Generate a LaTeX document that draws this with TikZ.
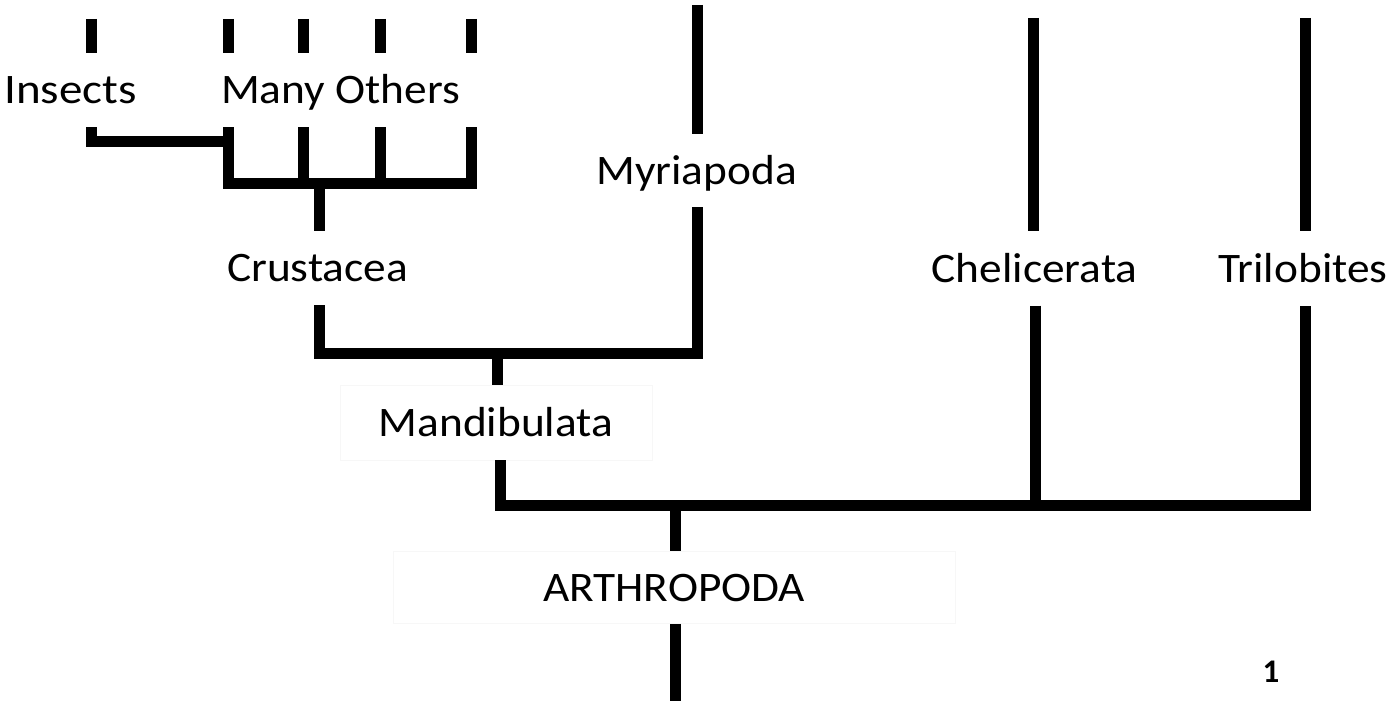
\documentclass[tikz,border=0pt]{standalone}
\usepackage{fontspec}
\setmainfont{Carlito}
\usepackage{graphicx}
\newcommand{\sx}[1]{\scalebox{1.08}[1]{#1}}
\begin{document}
\begin{tikzpicture}[x=1pt,y=-1pt,
  branch/.style={draw=black, line width=11pt, line join=miter, line cap=butt},
  lab/.style={inner sep=0pt, text height=27pt, text depth=0pt, minimum height=74pt,
              font=\fontsize{42}{42}\selectfont},
  faint/.style={draw=black!3, line width=0.8pt}]
\useasboundingbox (0,0) rectangle (1398,701);

% label nodes
\node[lab] (ins) at (70.5,90) {\scalebox{1.12}[1]{Insects}};
\node[lab] (mo)  at (340.5,90) {\sx{Many Others}};
\node[lab] (cru) at (317.5,268) {\sx{Crustacea}};
\node[lab, minimum height=73pt] (myr) at (696.5,170.5) {\sx{Myriapoda}};
\node[lab] (che) at (1034.5,268.5) {\sx{Chelicerata}};
\node[lab] (tri) at (1303,268.5) {\sx{Trilobites}};
\node[lab, faint, minimum height=75pt, minimum width=312pt] (man) at (496,422.5) {\sx{Mandibulata}};
\node[lab, faint, minimum height=72pt, minimum width=562pt] (art) at (674,587.5) {\sx{ARTHROPODA}};
\node[inner sep=0pt, font=\fontsize{33}{33}\selectfont\bfseries] (pg) at (1271,671.5) {1};

% coordinates
\coordinate (insT) at (91,19);
\coordinate (m1T) at (228,19);
\coordinate (m2T) at (303,19);
\coordinate (m3T) at (380,19);
\coordinate (m4T) at (471,19);
\coordinate (insJ) at (228,141);
\coordinate (m1B) at (228,183);
\coordinate (m2B) at (303,183);
\coordinate (m3B) at (380,183);
\coordinate (m4B) at (471,183);
\coordinate (cruJ) at (319,183);
\coordinate (myrT) at (697,5);
\coordinate (myrJ) at (697,353);
\coordinate (cruL) at (319,353);
\coordinate (manJ) at (497,353);
\coordinate (manL) at (500,505);
\coordinate (cheT) at (1033,18);
\coordinate (cheJ) at (1035,505);
\coordinate (triT) at (1305,18);
\coordinate (triJ) at (1305,505);
\coordinate (artJ) at (675,505);
\coordinate (artB) at (675,701);

% top stubs
\draw[branch] (insT) -- (ins.north -| insT);
\draw[branch] (m1T) -- (mo.north -| m1T);
\draw[branch] (m2T) -- (mo.north -| m2T);
\draw[branch] (m3T) -- (mo.north -| m3T);
\draw[branch] (m4T) -- (mo.north -| m4T);

% insects + many others
\draw[branch] (ins.south -| insT) |- (insJ);
\draw[branch] (mo.south -| m1T) -- (m1B) -- (m4B) -- (mo.south -| m4T);
\draw[branch] (mo.south -| m2T) -- (m2B);
\draw[branch] (mo.south -| m3T) -- (m3B);

% crustacea
\draw[branch] (cruJ) -- (cru.north -| cruJ);
\draw[branch] (cru.south -| cruJ) -- (cruL) -- (myrJ) -- (myr.south -| myrJ);

% myriapoda
\draw[branch] (myrT) -- (myr.north -| myrT);

% mandibulata
\draw[branch] (manJ) -- (man.north -| manJ);
\draw[branch] (man.south -| manL) -- (manL) -- (triJ) -- (tri.south -| triJ);

% chelicerata & trilobites
\draw[branch] (cheT) -- (che.north -| cheT);
\draw[branch] (che.south -| cheJ) -- (cheJ);
\draw[branch] (triT) -- (tri.north -| triT);

% arthropoda
\draw[branch] (artJ) -- (art.north -| artJ);
\draw[branch] (art.south -| artJ) -- (artB);
\end{tikzpicture}
\end{document}
